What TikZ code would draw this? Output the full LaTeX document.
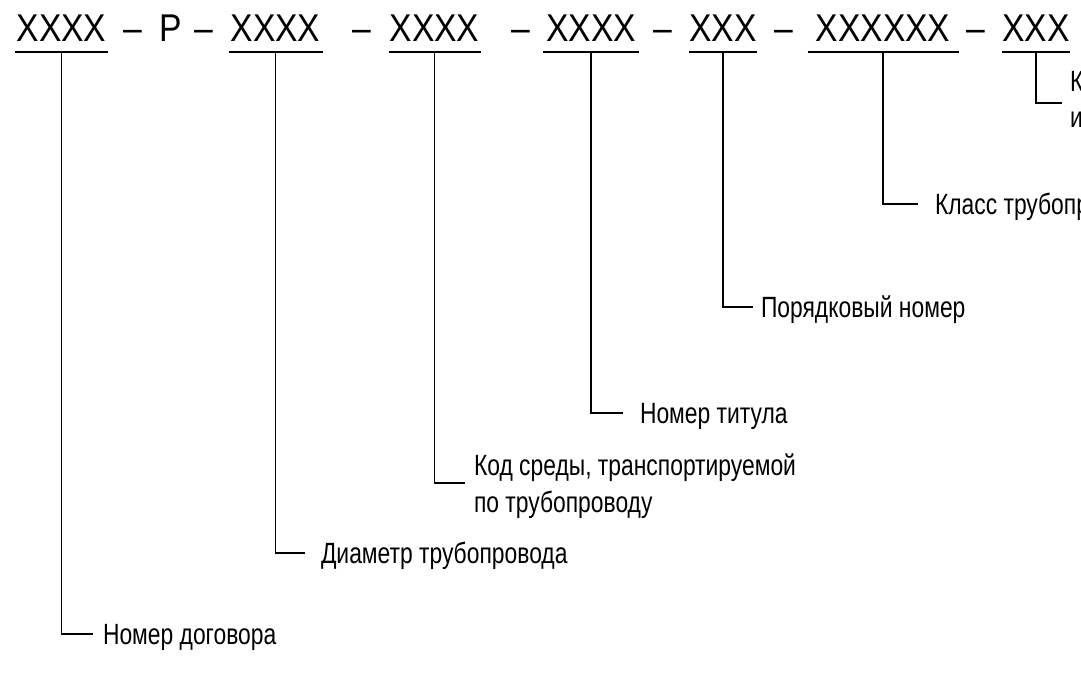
\documentclass[tikz,border=0pt]{standalone}
\usepackage{fontspec}
\setmainfont{Liberation Sans}
\newfontfamily\codefont[FakeStretch=0.87]{Liberation Sans}
\newfontfamily\labfont[FakeStretch=0.78]{Liberation Sans}
\begin{document}
\begin{tikzpicture}[x=1pt,y=-1pt,
  code/.style={font=\codefont\fontsize{38.7}{40}\selectfont, inner sep=0pt, outer sep=0pt,
               text height=28pt, text depth=11pt, anchor=base},
  uline/.style={line width=1.9pt},
  lead/.style={line width=1.9pt},
  lab/.style={font=\labfont\fontsize{29.3}{37}\selectfont, anchor=west, inner xsep=10pt,
              inner ysep=0pt, outer sep=0pt, text height=21pt, text depth=0pt},
]
\useasboundingbox (0,0) rectangle (1081,699);

% code groups and separators
\node[code, minimum width=93.5pt] (g1) at (61.5,41) {XXXX};
\node[code] (d1) at (132.5,41) {–};
\node[code] (p)  at (171,41) {Р};
\node[code] (d2) at (204,41) {–};
\node[code, minimum width=94pt] (g2) at (275.5,41) {XXXX};
\node[code] (d3) at (361.5,41) {–};
\node[code, minimum width=92pt] (g3) at (434.5,41) {XXXX};
\node[code] (d4) at (520.5,41) {–};
\node[code, minimum width=96pt] (g4) at (591,41) {XXXX};
\node[code] (d5) at (663,41) {–};
\node[code, minimum width=66pt] (g5) at (723,41) {XXX};
\node[code] (d6) at (783.5,41) {–};
\node[code, minimum width=151pt] (g6) at (883,41) {XXXXXX};
\node[code] (d7) at (975.5,41) {–};
\node[code, minimum width=68pt] (g7) at (1036,41) {XXX};

\foreach \g in {g1,g2,g3,g4,g5,g6,g7}
  \draw[uline] (\g.south west) -- (\g.south east);

% labels
\node[lab, inner xsep=10pt] (l1) at (93,634) {Номер договора};
\node[lab, inner xsep=16pt] (l2) at (305,553) {Диаметр трубопровода};
\node[lab, inner xsep=9pt, text depth=37pt] (l3) at (465,483)
  {\vtop{\baselineskip=37pt\hbox{Код среды, транспортируемой}\hbox{по трубопроводу}}};
\node[lab, inner xsep=17pt] (l4) at (623,413) {Номер титула};
\node[lab, inner xsep=8pt] (l5) at (753,307) {Порядковый номер};
\node[lab, inner xsep=17pt] (l6) at (918,204) {Класс трубопровода};
\node[lab, inner xsep=8pt, text depth=45pt] (l7) at (1062,103)
  {\vtop{\baselineskip=36pt\hbox{Код изоляции}\hbox{и обогрева}}};

% leaders
\draw[lead] (g1.south) |- (l1.west);
\draw[lead] (g2.south) |- (l2.west);
\draw[lead] (g3.south) |- (l3.west);
\draw[lead] (g4.south) |- (l4.west);
\draw[lead] (g5.south) |- (l5.west);
\draw[lead] (g6.south) |- (l6.west);
\draw[lead] (g7.south) |- (l7.west);
\end{tikzpicture}
\end{document}
